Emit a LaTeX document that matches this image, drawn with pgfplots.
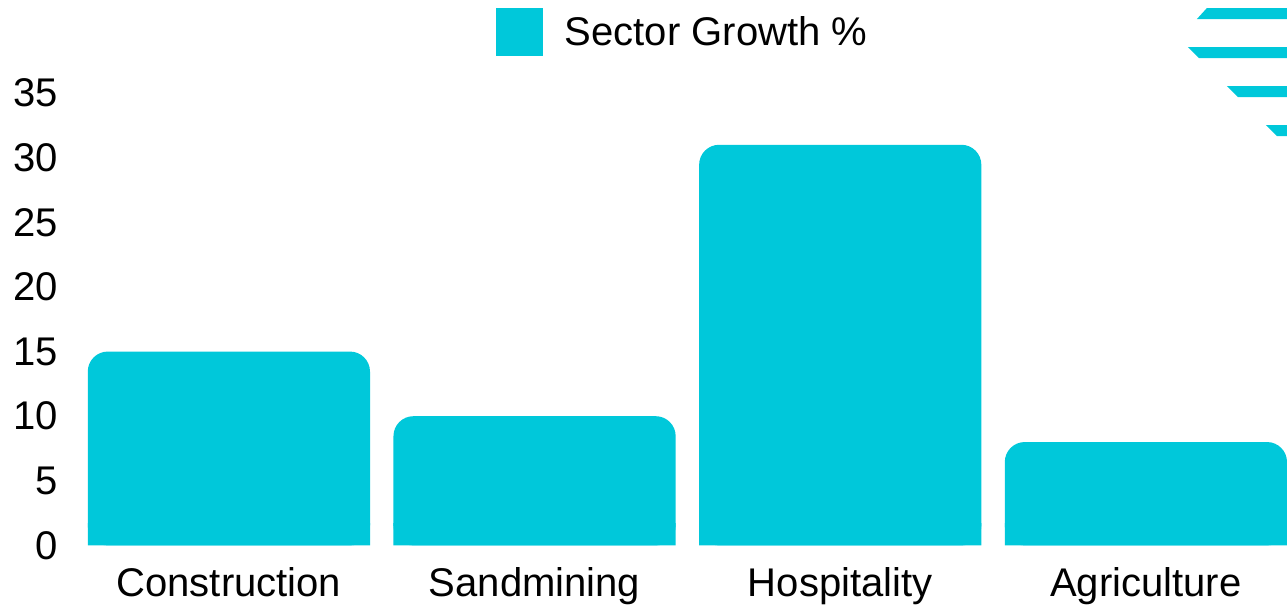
\documentclass[border=0pt]{standalone}
\usepackage{fontspec}
\setmainfont{Liberation Sans}
\usepackage{pgfplots}
\usepackage{pgfplotstable}
\pgfplotsset{compat=1.18}
\definecolor{barcol}{RGB}{0,200,218}
\pgfplotstableread{
x  growth
0  15
1  10
2  31
3  8
}\growthdata
\begin{document}
\begin{tikzpicture}
\begin{axis}[
  scale only axis, width=1210pt, height=452pt,
  xmin=-0.5, xmax=3.4616, ymin=0, ymax=35,
  ytick={0,5,10,15,20,25,30,35},
  xtick={0,1,2,3},
  xticklabels={Construction,Sandmining,Hospitality,Agriculture},
  axis line style={draw=none},
  major tick length=0pt,
  tick style={draw=none},
  /pgf/number format/assume math mode=true,
  tick label style={font=\fontsize{40}{48}\selectfont, inner sep=0pt},
  yticklabel style={anchor=east, xshift=-18pt},
  xticklabel style={anchor=north, yshift=-22pt},
  legend style={at={(0.5,1)}, anchor=south, yshift=37pt, draw=none, fill=none,
    inner sep=0pt, font=\fontsize{40}{48}\selectfont, column sep=22pt,
    nodes={inner sep=0pt}},
  legend image code/.code={\fill[barcol, sharp corners] (0pt,-24pt) rectangle (47pt,24pt);},
]
% rounded bars
\addplot[ybar, bar width=282pt, fill=barcol, draw=none, rounded corners=20pt]
  table[x=x, y=growth] {\growthdata};
\addlegendentry{Sector Growth \%}
% square off the bottom corners
\begin{scope}
\clip (rel axis cs:0,0) rectangle (rel axis cs:1,0.048);
\addplot[ybar, bar width=282pt, fill=barcol, draw=none, forget plot]
  table[x=x, y=growth] {\growthdata};
\end{scope}
\end{axis}
\begin{scope}[shift={(current axis.north east)}]
\fill[barcol] (-90pt,74pt) -- (-80pt,85pt) -- (0pt,85pt) -- (0pt,74pt) -- cycle;
\fill[barcol] (-99pt,46pt) -- (0pt,46pt) -- (0pt,35pt) -- (-88pt,35pt) -- cycle;
\fill[barcol] (-60pt,7pt) -- (0pt,7pt) -- (0pt,-4pt) -- (-49pt,-4pt) -- cycle;
\fill[barcol] (-21pt,-32pt) -- (0pt,-32pt) -- (0pt,-43pt) -- (-10pt,-43pt) -- cycle;
\end{scope}
\pgfresetboundingbox
\path (current axis.south west) ++(-76pt,-63pt) coordinate (bl);
\path (current axis.north east) ++(0pt,93pt) coordinate (tr);
\path (bl) rectangle (tr);
\end{tikzpicture}
\end{document}
